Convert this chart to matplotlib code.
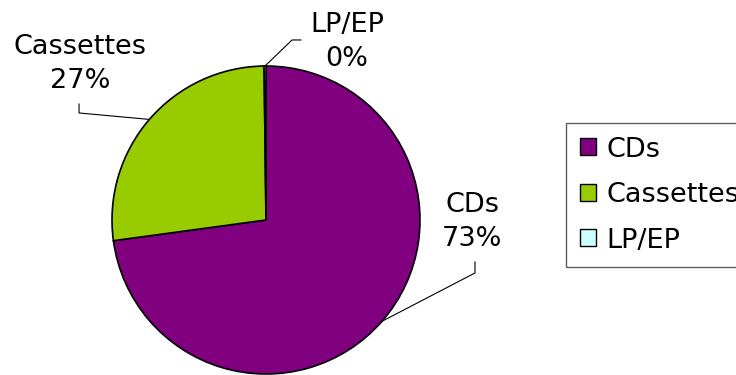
import numpy as np
import matplotlib.pyplot as plt
from matplotlib.patches import Patch

# sales share by format
formats = ['CDs', 'Cassettes', 'LP/EP']
shares = [73, 27, 0.2]
colors = ['#800080', '#99CC00', '#CCFFFF']

# label text positions (pie radius units) and leader elbow points
label_pos = [(1.338, -0.01), (-1.208, 1.01), (0.526, 1.155)]
elbows = [[(1.357, -0.344), (1.357, -0.273)],
          [(-1.214, 0.695), (-1.214, 0.753)],
          [(0.169, 1.169), (0.227, 1.169)]]


def main():
    fig = plt.figure(figsize=(7.36, 3.75), dpi=100)
    ax = fig.add_axes([0, 0, 1, 1])
    cx, cy, r = 266, 220, 154

    wedges, _ = ax.pie(shares, colors=colors, startangle=90, counterclock=False,
                       wedgeprops=dict(edgecolor='black', linewidth=1.2))

    # pie() resets the limits, so set them afterwards
    ax.set_xlim((0 - cx) / r, (736 - cx) / r)
    ax.set_ylim((cy - 375) / r, (cy - 0) / r)
    ax.set_aspect('equal')
    ax.axis('off')

    total = sum(shares)
    for w, name, val, (tx, ty), pts in zip(wedges, formats, shares, label_pos, elbows):
        ang = np.deg2rad((w.theta1 + w.theta2) / 2)
        x0, y0 = np.cos(ang), np.sin(ang)
        xs = [x0] + [p[0] for p in pts]
        ys = [y0] + [p[1] for p in pts]
        ax.plot(xs, ys, color='black', lw=0.8)
        pct = round(val / total * 100)
        ax.text(tx, ty, '%s\n%d%%' % (name, pct), ha='center', va='center',
                fontsize=19.5, linespacing=1.4, family='DejaVu Sans')

    handles = [Patch(facecolor=c, edgecolor='black', linewidth=1) for c in colors]
    leg = fig.legend(handles, formats, loc='upper left', bbox_to_anchor=(566 / 736, 1 - 123 / 375),
                     frameon=True, fontsize=19.5, handlelength=0.59, handleheight=0.59,
                     handletextpad=0.4, labelspacing=0.72, borderpad=0.5, fancybox=False,
                     borderaxespad=0)
    leg.get_frame().set_edgecolor('#333333')
    leg.get_frame().set_linewidth(1)

    fig.savefig('out.png', dpi=100)


if __name__ == '__main__':
    main()
